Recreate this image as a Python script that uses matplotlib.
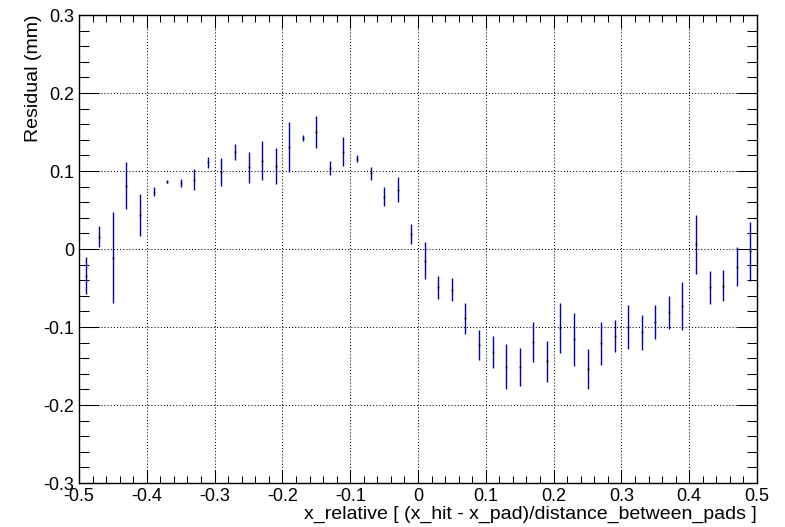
import numpy as np
import matplotlib.pyplot as plt
from matplotlib.ticker import MultipleLocator

plt.rcParams['font.family'] = ['Liberation Sans', 'DejaVu Sans']

# bin centres of x_relative (50 bins over [-0.5, 0.5])
x_rel = np.arange(-0.49, 0.5, 0.02)

# mean residual per bin (mm) and its error
residual = [
    -0.034, 0.016, -0.011, 0.081, 0.044, 0.0735, 0.086, 0.085, 0.089, 0.111,
    0.099, 0.124, 0.105, 0.113, 0.106, 0.131, 0.142, 0.150, 0.104, 0.125,
    0.116, 0.097, 0.067, 0.076, 0.019, -0.015, -0.049, -0.052, -0.089, -0.123,
    -0.132, -0.151, -0.151, -0.119, -0.144, -0.101, -0.116, -0.154, -0.121, -0.1115,
    -0.100, -0.107, -0.094, -0.081, -0.073, 0.006, -0.049, -0.047, -0.023, -0.003,
]
residual_err = [
    0.024, 0.014, 0.058, 0.030, 0.027, 0.006, 0.002, 0.005, 0.013, 0.007,
    0.018, 0.010, 0.020, 0.025, 0.023, 0.032, 0.004, 0.021, 0.009, 0.018,
    0.004, 0.008, 0.012, 0.016, 0.013, 0.024, 0.015, 0.015, 0.020, 0.019,
    0.021, 0.029, 0.024, 0.026, 0.026, 0.032, 0.034, 0.026, 0.028, 0.020,
    0.028, 0.023, 0.022, 0.021, 0.031, 0.038, 0.021, 0.020, 0.025, 0.038,
]

fig = plt.figure(figsize=(7.85, 5.27), dpi=100)
ax = fig.add_axes([79 / 785, 44 / 527, 678 / 785, 468 / 527])

ax.errorbar(x_rel, residual, yerr=residual_err, fmt='none',
            ecolor='#0000b0', elinewidth=1.0, capsize=0)
ax.plot(x_rel, residual, linestyle='none', marker='s', markersize=1.2,
        color='black', markeredgewidth=0)

ax.set_xlim(-0.5, 0.5)
ax.set_ylim(-0.3, 0.3)

ax.xaxis.set_minor_locator(MultipleLocator(0.02))
ax.yaxis.set_minor_locator(MultipleLocator(0.02))

ax.set_xticks(np.round(np.arange(-0.5, 0.51, 0.1), 1))
ax.set_xticklabels(['-0.5', '-0.4', '-0.3', '-0.2', '-0.1', '0',
                    '0.1', '0.2', '0.3', '0.4', '0.5'])
ax.set_yticks(np.round(np.arange(-0.3, 0.31, 0.1), 1))
ax.set_yticklabels(['-0.3', '-0.2', '-0.1', '0', '0.1', '0.2', '0.3'])

ax.grid(True, which='major', color='black', linestyle=(0, (1, 2)), linewidth=0.75)

ax.tick_params(axis='both', which='both', direction='in', top=True, right=True,
               labelsize=13, width=0.75, colors='black')
ax.tick_params(axis='x', which='major', length=9.4, pad=3.5)
ax.tick_params(axis='x', which='minor', length=4.7)
ax.tick_params(axis='y', which='major', length=14.4, pad=3.5)
ax.tick_params(axis='y', which='minor', length=7.2)

for spine in ax.spines.values():
    spine.set_linewidth(1.0)

ax.set_xlabel('x_relative [ (x_hit - x_pad)/distance_between_pads ]',
              fontsize=14, loc='right', labelpad=1)
ax.set_ylabel('Residual (mm)', fontsize=14, loc='top', labelpad=1)

fig.savefig('out.png', dpi=100)
